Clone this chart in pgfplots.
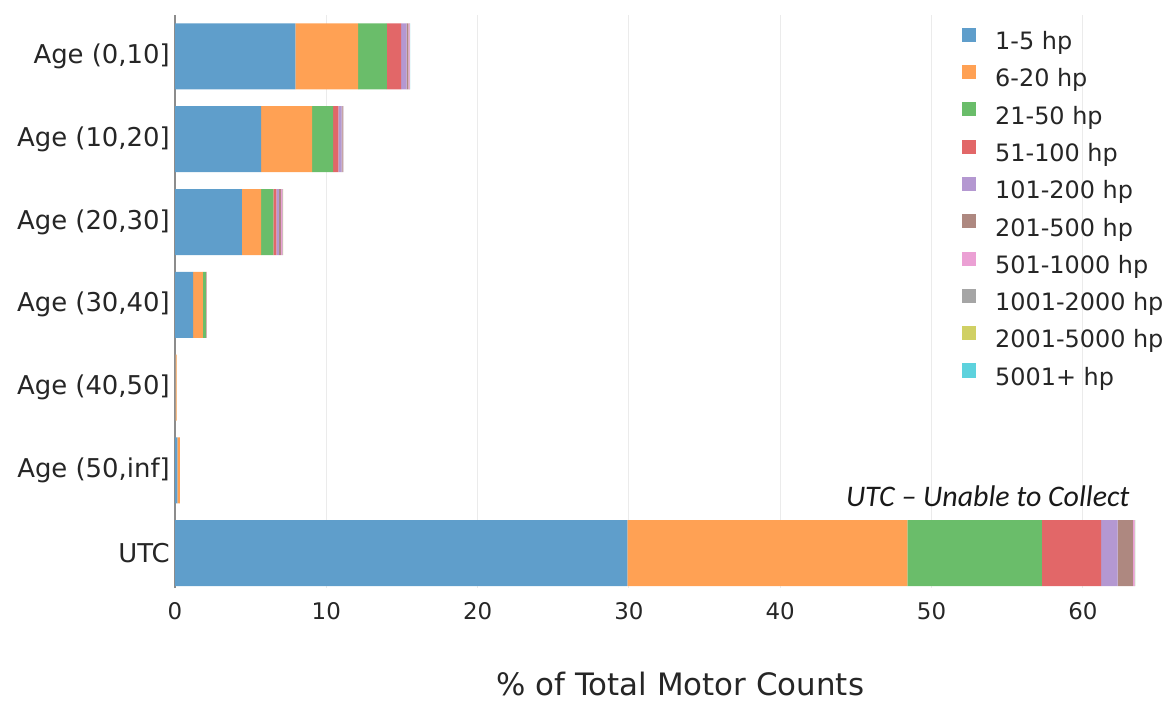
\documentclass[border=0pt]{standalone}
\usepackage{pgfplots}
\pgfplotsset{compat=1.18}
\usepackage{pgfplotstable}
\usepackage{fontspec}
\setmainfont{DejaVu Sans}
\newfontfamily\notefont{Carlito}

% plotly colours at 0.7 opacity on white
\definecolor{c1}{HTML}{5F9ECB}
\definecolor{c2}{HTML}{FFA154}
\definecolor{c3}{HTML}{6ABD6A}
\definecolor{c4}{HTML}{E26768}
\definecolor{c5}{HTML}{B498D1}
\definecolor{c6}{HTML}{AE8880}
\definecolor{c7}{HTML}{EBA0D4}
\definecolor{c8}{HTML}{A5A5A5}
\definecolor{c9}{HTML}{D0D064}
\definecolor{c10}{HTML}{5DD2DD}

% y: 6 = Age (0,10] ... 0 = UTC
\pgfplotstableread{
y  a     b     c     d     e     f     g     h     i     j
6  7.95  4.15  1.90  0.95  0.35  0.12  0.08  0.02  0.01  0.01
5  5.70  3.37  1.38  0.35  0.22  0.06  0.03  0.01  0.00  0.00
4  4.42  1.28  0.80  0.20  0.17  0.13  0.10  0.03  0.01  0.00
3  1.20  0.65  0.20  0.03  0.01  0.00  0.00  0.00  0.00  0.00
2  0.02  0.08  0.01  0.00  0.00  0.00  0.00  0.00  0.00  0.00
1  0.15  0.17  0.01  0.00  0.00  0.00  0.00  0.00  0.00  0.00
0  29.90 18.50 8.90  3.90  1.10  1.00  0.12  0.02  0.01  0.01
}\motors

\begin{document}
\begin{tikzpicture}
\useasboundingbox (0,0) rectangle (1171bp,702bp);
\begin{axis}[
  at={(175bp,114bp)}, anchor=south west,
  scale only axis, width=985bp, height=573bp,
  xbar stacked, bar width=66bp,
  xmin=0, xmax=65.1, ymin=-0.42, ymax=6.5,
  axis x line*=bottom, axis y line*=left,
  x axis line style={draw=none},
  y axis line style={draw=black!45, line width=1.6bp},
  xtick={0,10,...,60},
  ytick={0,1,2,3,4,5,6},
  yticklabels={UTC, {Age (50,inf]}, {Age (40,50]}, {Age (30,40]}, {Age (20,30]}, {Age (10,20]}, {Age (0,10]}},
  major tick length=0pt,
  xmajorgrids, grid style={draw=black!8, line width=1bp},
  /pgf/number format/assume math mode=true,
  xticklabel style={font=\fontsize{23}{23}\selectfont, anchor=north, inner sep=0pt, yshift=-14bp, text=black!85},
  yticklabel style={font=\fontsize{26}{26}\selectfont, anchor=east, inner sep=0pt, xshift=-5bp, text=black!85},
  xlabel={\% of Total Motor Counts},
  xlabel style={font=\fontsize{31}{31}\selectfont, at={(axis description cs:0.513,0)}, anchor=base, yshift=-107bp, text=black!85},
  legend cell align=left,
  legend style={at={(0.799,0.978)}, anchor=north west, draw=none, fill=none, inner sep=0pt,
    font=\fontsize{24}{24}\selectfont, row sep=10.6bp,
    nodes={inner sep=0pt, text height=17bp, text depth=5bp, text=black!85}},
  legend image code/.code={\fill[#1] (0bp,1.7bp) rectangle (14bp,15.7bp); \path (33bp,0bp);},
  every axis plot/.append style={draw=none},
]
\addplot[fill=c1] table[x=a, y=y] {\motors};
\addlegendentry{1-5 hp}
\addplot[fill=c2] table[x=b, y=y] {\motors};
\addlegendentry{6-20 hp}
\addplot[fill=c3] table[x=c, y=y] {\motors};
\addlegendentry{21-50 hp}
\addplot[fill=c4] table[x=d, y=y] {\motors};
\addlegendentry{51-100 hp}
\addplot[fill=c5] table[x=e, y=y] {\motors};
\addlegendentry{101-200 hp}
\addplot[fill=c6] table[x=f, y=y] {\motors};
\addlegendentry{201-500 hp}
\addplot[fill=c7] table[x=g, y=y] {\motors};
\addlegendentry{501-1000 hp}
\addplot[fill=c8] table[x=h, y=y] {\motors};
\addlegendentry{1001-2000 hp}
\addplot[fill=c9] table[x=i, y=y] {\motors};
\addlegendentry{2001-5000 hp}
\addplot[fill=c10] table[x=j, y=y] {\motors};
\addlegendentry{5001+ hp}
\node[anchor=base east, inner sep=0pt, font=\notefont\itshape\fontsize{30}{30}\selectfont, text=black!90]
  at (axis cs:63.1,0.56) {UTC – Unable to Collect};
\end{axis}
\end{tikzpicture}
\end{document}
